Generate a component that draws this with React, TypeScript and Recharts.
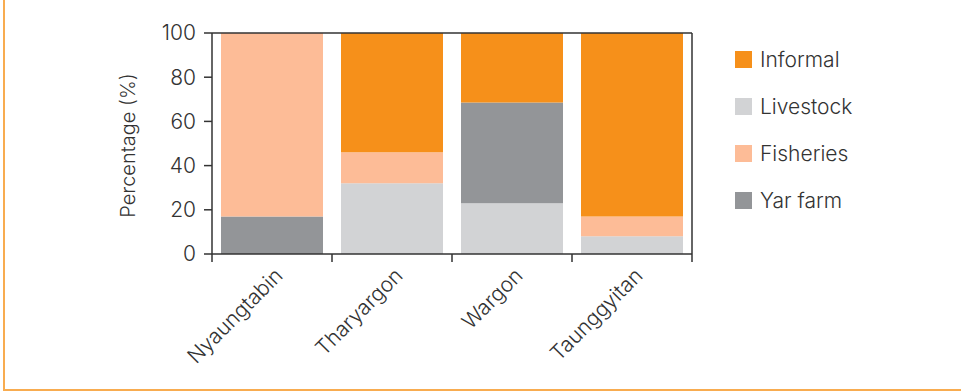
import { BarChart, Bar, XAxis, YAxis, Label, CartesianGrid, ReferenceLine } from 'recharts';

const villages = ['Nyaungtabin', 'Tharyargon', 'Wargon', 'Taunggyitan'];
const livestock = [0, 32, 23, 8];
const yarFarm = [17, 0, 45.5, 0];
const fisheries = [83, 14, 0, 9];
const informal = [0, 54, 31.5, 83];
const yTicks = [0, 20, 40, 60, 80, 100];

const colors = {
  informal: '#F6901A',
  livestock: '#D2D3D5',
  fisheries: '#FDBC97',
  yarFarm: '#939598',
};

const legendItems = [
  { name: 'Informal', color: colors.informal },
  { name: 'Livestock', color: colors.livestock },
  { name: 'Fisheries', color: colors.fisheries },
  { name: 'Yar farm', color: colors.yarFarm },
];

const data = villages.map((v, i) => ({
  village: v,
  livestock: livestock[i],
  yarFarm: yarFarm[i],
  fisheries: fisheries[i],
  informal: informal[i],
}));

const FONT = 'Inter, Roboto, sans-serif';
const INK = '#333333';
const FS = 21;

// label + tick marks at the band edges (not at the centre)
const VillageTick = (props: any) => {
  const { x, y, payload, index, visibleTicksCount } = props;
  const half = payload.offset || 60;
  const last = index === visibleTicksCount - 1;
  return (
    <g>
      <line x1={x - half} x2={x - half} y1={y - 8} y2={y} stroke={INK} strokeWidth={1.5} />
      {last && <line x1={x + half} x2={x + half} y1={y - 8} y2={y} stroke={INK} strokeWidth={1.5} />}
      <text transform={`translate(${x + 12},${y + 15}) rotate(-45)`} textAnchor="end"
        fontFamily={FONT} fontWeight={300} fontSize={FS} fill={INK}>
        {payload.value}
      </text>
    </g>
  );
};

const YLabel = (props: any) => {
  const { viewBox } = props;
  const cx = viewBox.x + 26;
  const cy = viewBox.y + viewBox.height / 2 + 2;
  return (
    <text x={cx} y={cy} transform={`rotate(-90, ${cx}, ${cy})`} textAnchor="middle" dominantBaseline="central"
      fontFamily={FONT} fontWeight={300} fontSize={20} fill={INK}>
      Percentage (%)
    </text>
  );
};

export default function App() {
  return (
    <div style={{ position: 'absolute', left: 0, top: 0, width: 961, height: 391, background: '#fff' }}>
      <div style={{ position: 'absolute', left: 3, top: 0, width: 2, height: 391, background: '#F8AC50' }} />
      <div style={{ position: 'absolute', left: 3, top: 389, width: 958, height: 2, background: '#F8AC50' }} />
      <BarChart width={961} height={391} data={data} barSize={102}
        margin={{ top: 33, right: 269, left: 102, bottom: 37 }}>
        <CartesianGrid stroke={INK} strokeWidth={1.5} horizontal={false}
          verticalCoordinatesGenerator={({ offset }: any) => [offset.left + offset.width]} />
        <XAxis dataKey="village" height={100} axisLine={{ stroke: INK, strokeWidth: 1.5 }} tickLine={false}
          tick={<VillageTick />} interval={0} />
        <YAxis domain={[0, 100]} ticks={yTicks} width={110} tickSize={8} tickMargin={8}
          axisLine={{ stroke: INK, strokeWidth: 1.5 }} tickLine={{ stroke: INK, strokeWidth: 1.5 }}
          tick={{ fontFamily: FONT, fontWeight: 300, fontSize: FS, fill: INK }}>
          <Label content={<YLabel />} />
        </YAxis>
        <Bar dataKey="livestock" stackId="a" fill={colors.livestock} isAnimationActive={false} />
        <Bar dataKey="yarFarm" stackId="a" fill={colors.yarFarm} isAnimationActive={false} />
        <Bar dataKey="fisheries" stackId="a" fill={colors.fisheries} isAnimationActive={false} />
        <Bar dataKey="informal" stackId="a" fill={colors.informal} isAnimationActive={false} />
        <ReferenceLine y={100} stroke={INK} strokeWidth={1.5} />
      </BarChart>
      <div style={{ position: 'absolute', left: 735, top: 36, fontFamily: FONT, fontWeight: 300, fontSize: FS, color: INK }}>
        {legendItems.map((it) => (
          <div key={it.name} style={{ display: 'flex', alignItems: 'center', height: 47 }}>
            <span style={{ width: 17, height: 17, background: it.color, marginRight: 8, display: 'inline-block' }} />
            <span>{it.name}</span>
          </div>
        ))}
      </div>
    </div>
  );
}
